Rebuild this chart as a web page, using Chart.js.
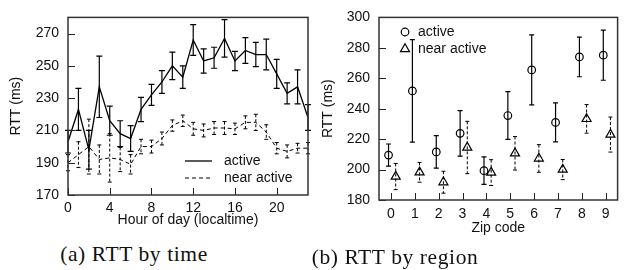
<!DOCTYPE html>
<html>
<head>
<meta charset="utf-8">
<script src="https://cdn.jsdelivr.net/npm/chart.js@4/dist/chart.umd.min.js"></script>
<style>
  html, body { margin: 0; padding: 0; background: #fff; }
  #wrap { position: relative; width: 624px; height: 270px; background: #fff; overflow: hidden; }
  .cv { position: absolute; top: 0; }
  .cap { position: absolute; font-family: "Liberation Serif", serif; font-size: 21.5px; letter-spacing: 0.6px;
         line-height: 24px; white-space: nowrap; color: #111; transform: translateX(-50%); }
</style>
</head>
<body>
<div id="wrap">
  <canvas id="c1" class="cv" width="316" height="232" style="left:0px"></canvas>
  <canvas id="c2" class="cv" width="312" height="240" style="left:312px"></canvas>
  <div class="cap" style="left:134px; top:242px">(a) RTT by time</div>
  <div class="cap" style="left:395px; top:245px">(b) RTT by region</div>
</div>
<script>
// ---------- data: (a) RTT by time ----------
const hours = [0,1,2,3,4,5,6,7,8,9,10,11,12,13,14,15,16,17,18,19,20,21,22,23];
const activeByHour    = [203,223,198,237,216,208,205,223,232,240,250,243,266,253,255,267,253,259.5,257,257,245,233,237,218];
const activeHourErr   = [7,13,12,19,9,8,8,7.5,6.5,7,8.5,7,9.5,7.5,6.5,11.6,6,8,7.5,9.5,9,6.5,10.5,8];
const nearByHour      = [190,195,200,192,193,192,189,200,200,205,213,216,211,210,211.5,211.5,211,215,215,209,199,197,199,199];
const nearHourErr     = [5,8,17,9,15,7.5,6,4.5,4,4,3.5,3.5,4,4,4,4,3.5,4,5,4.5,3.5,4,3,3.5];
const hourTicks = [0,4,8,12,16,20];
const rttTicksA = [170,190,210,230,250,270];

// ---------- data: (b) RTT by region ----------
const zipCodes = [0,1,2,3,4,5,6,7,8,9];
const activeByZip  = [209.5,251.7,211.6,223.8,199.3,235.5,265.5,231,274,275.2];
const activeZipErr = [7.3,33.7,10.7,15,9,15.7,23,12.8,13,16.5];
const nearByZip    = [195.4,198.2,191.7,214.5,198,210.7,207.3,200,233.3,223];
const nearZipErr   = [8.6,6.5,7.2,17.2,8.5,11,9.1,6.6,9.4,11.5];
const rttTicksB = [180,200,220,240,260,280,300];

const seriesNames = ['active', 'near active'];

Chart.defaults.font.family = '"Liberation Sans", Arial, sans-serif';
Chart.defaults.font.size = 14;
Chart.defaults.color = '#111';

// error bars drawn through the chart's own scales
const errorBars = {
  id: 'errorBars',
  afterDatasetsDraw(chart) {
    const ctx = chart.ctx, ys = chart.scales.y;
    chart.data.datasets.forEach((ds, di) => {
      if (!ds.errors) return;
      const meta = chart.getDatasetMeta(di);
      ctx.save();
      ctx.strokeStyle = '#000';
      ctx.lineWidth = ds.errWidth || 1;
      meta.data.forEach((pt, i) => {
        const v = ds.data[i].y, e = ds.errors[i];
        const x = pt.x;
        const y1 = ys.getPixelForValue(v + e), y2 = ys.getPixelForValue(v - e);
        ctx.setLineDash(ds.errDash || []);
        ctx.beginPath(); ctx.moveTo(x, y1); ctx.lineTo(x, y2); ctx.stroke();
        ctx.setLineDash([]);
        const c = ds.capHalf || 3;
        ctx.beginPath();
        ctx.moveTo(x - c, y1); ctx.lineTo(x + c, y1);
        ctx.moveTo(x - c, y2); ctx.lineTo(x + c, y2);
        ctx.stroke();
      });
      ctx.restore();
    });
  }
};

// frame + inward tick marks at the scales' ticks
const frameTicks = {
  id: 'frameTicks',
  afterDraw(chart, args, opts) {
    const ctx = chart.ctx, a = chart.chartArea;
    const xs = chart.scales.x, ys = chart.scales.y;
    ctx.save();
    ctx.strokeStyle = '#222';
    ctx.lineWidth = 1;
    ctx.beginPath();
    xs.ticks.forEach(t => {
      const px = Math.round(xs.getPixelForValue(t.value)) + 0.5;
      ctx.moveTo(px, a.bottom); ctx.lineTo(px, a.bottom - opts.len);
    });
    ys.ticks.forEach(t => {
      const py = Math.round(ys.getPixelForValue(t.value)) + 0.5;
      ctx.moveTo(a.left, py); ctx.lineTo(a.left + opts.len, py);
    });
    ctx.stroke();
    ctx.strokeStyle = '#333';
    ctx.lineWidth = 1.5;
    ctx.strokeRect(a.left, a.top, a.right - a.left, a.bottom - a.top);
    ctx.restore();
  }
};

// legend drawn inside the plot
const innerLegend = {
  id: 'innerLegend',
  afterDraw(chart, args, opts) {
    const ctx = chart.ctx;
    ctx.save();
    ctx.font = '14px "Liberation Sans", Arial, sans-serif';
    ctx.textBaseline = 'middle';
    ctx.textAlign = 'left';
    chart.data.datasets.forEach((ds, i) => {
      const y = opts.y + i * opts.dy;
      ctx.strokeStyle = '#000';
      if (opts.kind === 'line') {
        ctx.lineWidth = ds.borderWidth;
        ctx.setLineDash(ds.borderDash || []);
        ctx.beginPath(); ctx.moveTo(opts.x0, y); ctx.lineTo(opts.x1, y); ctx.stroke();
        ctx.setLineDash([]);
      } else {
        ctx.lineWidth = ds.pointBorderWidth;
        ctx.fillStyle = 'rgba(0,0,0,0)';
        Chart.helpers.drawPoint(ctx, {pointStyle: ds.pointStyle, radius: ds.pointRadius, borderWidth: ds.pointBorderWidth, rotation: 0},
          opts.x0, y);
      }
      ctx.fillStyle = '#111';
      ctx.fillText(ds.label, opts.tx, y);
    });
    ctx.restore();
  }
};

function setTicks(values) { return s => { s.ticks = values.map(v => ({ value: v })); }; }
const noGrid = { display: false, drawTicks: false, tickLength: 0 };

// ---------- chart (a) ----------
new Chart(document.getElementById('c1'), {
  type: 'line',
  data: {
    datasets: [
      { label: seriesNames[0], data: hours.map((h, i) => ({ x: h, y: activeByHour[i] })), errors: activeHourErr,
        borderColor: '#000', borderWidth: 1.3, pointRadius: 0, tension: 0, errWidth: 1.2, capHalf: 3 },
      { label: seriesNames[1], data: hours.map((h, i) => ({ x: h, y: nearByHour[i] })), errors: nearHourErr,
        borderColor: '#000', borderWidth: 1, borderDash: [4, 3], pointRadius: 0, tension: 0,
        errWidth: 1, errDash: [3, 2], capHalf: 2 }
    ]
  },
  options: {
    responsive: false, animation: false, devicePixelRatio: 1,
    layout: { padding: { left: 0, top: 8, right: 8, bottom: 0 } },
    plugins: { legend: { display: false }, tooltip: { enabled: false },
      innerLegend: { kind: 'line', x0: 185, x1: 212, tx: 224, y: 161, dy: 17 },
      frameTicks: { len: 7 } },
    scales: {
      x: { type: 'linear', min: 0, max: 23, afterBuildTicks: setTicks(hourTicks),
        grid: noGrid, border: { display: false },
        ticks: { padding: 5, maxRotation: 0, autoSkip: false },
        title: { display: true, text: 'Hour of day (localtime)', padding: { top: 0, bottom: 3 } },
        afterFit: s => { s.height = 37; } },
      y: { type: 'linear', min: 170, max: 280, afterBuildTicks: setTicks(rttTicksA),
        grid: noGrid, border: { display: false },
        ticks: { padding: 9 },
        title: { display: true, text: 'RTT (ms)', padding: { top: 8, bottom: 0 } },
        afterFit: s => { s.width = 68; } }
    }
  },
  plugins: [errorBars, frameTicks, innerLegend]
});

// ---------- chart (b) ----------
const ACTIVE_SHIFT = -0.1, NEAR_SHIFT = 0.2;
new Chart(document.getElementById('c2'), {
  type: 'scatter',
  data: {
    datasets: [
      { label: seriesNames[0], data: zipCodes.map((z, i) => ({ x: z + ACTIVE_SHIFT, y: activeByZip[i] })), errors: activeZipErr,
        pointStyle: 'circle', pointRadius: 3.8, pointBorderWidth: 1.2, borderColor: '#000', backgroundColor: 'rgba(0,0,0,0)',
        errWidth: 1.2, capHalf: 2.5 },
      { label: seriesNames[1], data: zipCodes.map((z, i) => ({ x: z + NEAR_SHIFT, y: nearByZip[i] })), errors: nearZipErr,
        pointStyle: 'triangle', pointRadius: 5.2, pointBorderWidth: 1.2, borderColor: '#000', backgroundColor: 'rgba(0,0,0,0)',
        errWidth: 1, errDash: [3, 2], capHalf: 2 }
    ]
  },
  options: {
    responsive: false, animation: false, devicePixelRatio: 1,
    layout: { padding: { left: 0, top: 14, right: 5, bottom: 0 } },
    plugins: { legend: { display: false }, tooltip: { enabled: false },
      innerLegend: { kind: 'point', x0: 93, tx: 106, y: 32, dy: 17 },
      frameTicks: { len: 7 } },
    scales: {
      x: { type: 'linear', min: -0.5, max: 9.5, afterBuildTicks: setTicks(zipCodes),
        grid: noGrid, border: { display: false },
        ticks: { padding: 6, maxRotation: 0, autoSkip: false },
        title: { display: true, text: 'Zip code', padding: { top: 0, bottom: 3 } },
        afterFit: s => { s.height = 40; } },
      y: { type: 'linear', min: 180, max: 300, afterBuildTicks: setTicks(rttTicksB),
        grid: noGrid, border: { display: false },
        ticks: { padding: 9 },
        title: { display: true, text: 'RTT (ms)', padding: { top: 7.5, bottom: 0 } },
        afterFit: s => { s.width = 67; } }
    }
  },
  plugins: [errorBars, frameTicks, innerLegend]
});
</script>
</body>
</html>
